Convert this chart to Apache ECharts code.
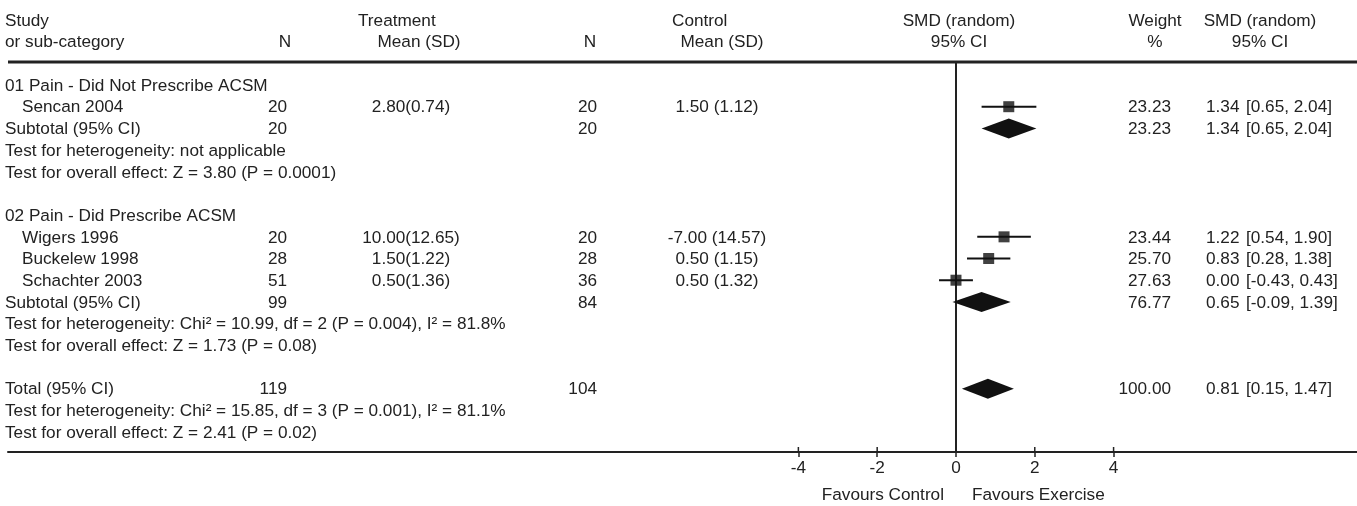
<!DOCTYPE html>
<html><head><meta charset="utf-8">
<script src="https://cdn.jsdelivr.net/npm/echarts@6/dist/echarts.min.js"></script>
<style>html,body{margin:0;padding:0;background:#fff}#c{width:1357px;height:506px}</style>
</head><body><div id="c"></div>
<script>
// ---------------- data ----------------
const groupLabels = ['01 Pain - Did Not Prescribe ACSM', '02 Pain - Did Prescribe ACSM'];
const groupRows = [0, 6];

const studies = ['Sencan 2004', 'Wigers 1996', 'Buckelew 1998', 'Schachter 2003'];
const studyRows = [1, 7, 8, 9];
const treatN = [20, 20, 28, 51];
const treatMeanSD = ['2.80(0.74)', '10.00(12.65)', '1.50(1.22)', '0.50(1.36)'];
const ctrlN = [20, 20, 28, 36];
const ctrlMeanSD = ['1.50 (1.12)', '-7.00 (14.57)', '0.50 (1.15)', '0.50 (1.32)'];
const smd = [1.34, 1.22, 0.83, 0.00];
const ciLower = [0.65, 0.54, 0.28, -0.43];
const ciUpper = [2.04, 1.90, 1.38, 0.43];
const weight = [23.23, 23.44, 25.70, 27.63];

const pooledLabels = ['Subtotal (95% CI)', 'Subtotal (95% CI)', 'Total (95% CI)'];
const pooledRows = [2, 10, 14];
const pooledTreatN = [20, 99, 119];
const pooledCtrlN = [20, 84, 104];
const pooledSmd = [1.34, 0.65, 0.81];
const pooledLower = [0.65, -0.09, 0.15];
const pooledUpper = [2.04, 1.39, 1.47];
const pooledWeight = [23.23, 76.77, 100.00];

const testLines = [
  'Test for heterogeneity: not applicable',
  'Test for overall effect: Z = 3.80 (P = 0.0001)',
  'Test for heterogeneity: Chi² = 10.99, df = 2 (P = 0.004), I² = 81.8%',
  'Test for overall effect: Z = 1.73 (P = 0.08)',
  'Test for heterogeneity: Chi² = 15.85, df = 3 (P = 0.001), I² = 81.1%',
  'Test for overall effect: Z = 2.41 (P = 0.02)'
];
const testRows = [3, 4, 11, 12, 15, 16];

const headerTop = ['Study', 'Treatment', 'Control', 'SMD (random)', 'Weight', 'SMD (random)'];
const headerBottom = ['or sub-category', 'N', 'Mean (SD)', 'N', 'Mean (SD)', '95% CI', '%', '95% CI'];
const headerRows = [-3, -2];

const xTicks = [-4, -2, 0, 2, 4];
const favourLabels = ['Favours Control', 'Favours Exercise'];

// ---------------- layout / style ----------------
const FONT_FAMILY = '"Liberation Sans", Arial, sans-serif';
const FONT = '17.2px ' + FONT_FAMILY;
const INK = '#222';
const MARK = '#111';
const Y_MIN = -1.107, Y_MAX = 16.874;
const COL = { label: 5, indent: 22, treatN: 287, treatMean: 411, ctrlN: 597, ctrlMean: 717,
              weight: 1171, est: 1206, ci: 1246 };

function txt(x, y, text, align) {
  return { type: 'text', x: x, y: y,
    style: { text: String(text), font: FONT, fill: INK, align: align || 'left', verticalAlign: 'middle' } };
}
function rowY(api) { return api.coord([0, api.value(1)])[1]; }
const f2 = v => v.toFixed(2);
const ciTxt = (l, u) => '[' + f2(l) + ', ' + f2(u) + ']';

const chart = echarts.init(document.getElementById('c'));

const option = {
  animation: false,
  backgroundColor: '#fff',
  grid: { left: 8, right: 0, top: 62, bottom: 54, containLabel: false },
  xAxis: {
    type: 'value', min: -24.06, max: 10.178, position: 'bottom',
    axisLine: { onZero: false, lineStyle: { color: INK, width: 2 } },
    axisTick: { customValues: xTicks, length: 5, lineStyle: { color: INK, width: 1.5 } },
    axisLabel: { customValues: xTicks, margin: 8, color: INK, fontSize: 17.2, fontFamily: FONT_FAMILY },
    splitLine: { show: false }
  },
  yAxis: {
    type: 'value', inverse: true, min: Y_MIN, max: Y_MAX,
    axisLine: { show: true, onZero: true, lineStyle: { color: INK, width: 2 } },
    axisTick: { show: false }, axisLabel: { show: false }, splitLine: { show: false }
  },
  graphic: [
    { type: 'line', shape: { x1: 8, y1: 62, x2: 1357, y2: 62 }, style: { stroke: INK, lineWidth: 3 }, z: 100 },
    { type: 'text', x: 944, y: 495, style: { text: favourLabels[0], font: FONT, fill: INK, align: 'right', verticalAlign: 'middle' } },
    { type: 'text', x: 972, y: 495, style: { text: favourLabels[1], font: FONT, fill: INK, align: 'left', verticalAlign: 'middle' } }
  ],
  series: [
    // headers
    {
      type: 'custom', clip: false, silent: true, encode: { x: 0, y: 1 },
      data: headerRows.map(r => [0, r]),
      renderItem: function (params, api) {
        const y = rowY(api);
        if (params.dataIndex === 0) {
          return { type: 'group', children: [
            txt(COL.label, y, headerTop[0]),
            txt(358, y, headerTop[1]),
            txt(672, y, headerTop[2]),
            txt(959, y, headerTop[3], 'center'),
            txt(1155, y, headerTop[4], 'center'),
            txt(1260, y, headerTop[5], 'center')
          ] };
        }
        return { type: 'group', children: [
          txt(COL.label, y, headerBottom[0]),
          txt(285, y, headerBottom[1], 'center'),
          txt(419, y, headerBottom[2], 'center'),
          txt(590, y, headerBottom[3], 'center'),
          txt(722, y, headerBottom[4], 'center'),
          txt(959, y, headerBottom[5], 'center'),
          txt(1155, y, headerBottom[6], 'center'),
          txt(1260, y, headerBottom[7], 'center')
        ] };
      }
    },
    // group labels
    {
      type: 'custom', clip: false, silent: true, encode: { x: 0, y: 1 },
      data: groupRows.map(r => [0, r]),
      renderItem: (params, api) => txt(COL.label, rowY(api), groupLabels[params.dataIndex])
    },
    // test lines
    {
      type: 'custom', clip: false, silent: true, encode: { x: 0, y: 1 },
      data: testRows.map(r => [0, r]),
      renderItem: (params, api) => txt(COL.label, rowY(api), testLines[params.dataIndex])
    },
    // study rows text
    {
      type: 'custom', clip: false, silent: true, encode: { x: 0, y: 1 },
      data: studyRows.map(r => [0, r]),
      renderItem: function (params, api) {
        const i = params.dataIndex, y = rowY(api);
        return { type: 'group', children: [
          txt(COL.indent, y, studies[i]),
          txt(COL.treatN, y, treatN[i], 'right'),
          txt(COL.treatMean, y, treatMeanSD[i], 'center'),
          txt(COL.ctrlN, y, ctrlN[i], 'right'),
          txt(COL.ctrlMean, y, ctrlMeanSD[i], 'center'),
          txt(COL.weight, y, f2(weight[i]), 'right'),
          txt(COL.est, y, f2(smd[i])),
          txt(COL.ci, y, ciTxt(ciLower[i], ciUpper[i]))
        ] };
      }
    },
    // pooled rows text
    {
      type: 'custom', clip: false, silent: true, encode: { x: 0, y: 1 },
      data: pooledRows.map(r => [0, r]),
      renderItem: function (params, api) {
        const i = params.dataIndex, y = rowY(api);
        return { type: 'group', children: [
          txt(COL.label, y, pooledLabels[i]),
          txt(COL.treatN, y, pooledTreatN[i], 'right'),
          txt(COL.ctrlN, y, pooledCtrlN[i], 'right'),
          txt(COL.weight, y, f2(pooledWeight[i]), 'right'),
          txt(COL.est, y, f2(pooledSmd[i])),
          txt(COL.ci, y, ciTxt(pooledLower[i], pooledUpper[i]))
        ] };
      }
    },
    // upper half of axis ticks (so they cross the axis line)
    {
      type: 'custom', clip: false, silent: true, encode: { x: 0, y: 1 },
      data: xTicks.map(v => [v, Y_MAX]),
      renderItem: function (params, api) {
        const p = api.coord([api.value(0), api.value(1)]);
        return { type: 'line', shape: { x1: p[0], y1: p[1] - 5, x2: p[0], y2: p[1] },
                 style: { stroke: INK, lineWidth: 1.5 } };
      }
    },
    // CI whiskers
    {
      type: 'custom', clip: false, silent: true, encode: { x: [0, 1], y: 2 },
      data: studyRows.map((r, i) => [ciLower[i], ciUpper[i], r]),
      renderItem: function (params, api) {
        const p1 = api.coord([api.value(0), api.value(2)]);
        const p2 = api.coord([api.value(1), api.value(2)]);
        return { type: 'line', shape: { x1: p1[0], y1: p1[1] - 1, x2: p2[0], y2: p2[1] - 1 },
                 style: { stroke: MARK, lineWidth: 2 } };
      }
    },
    // study squares
    {
      type: 'scatter', silent: true, symbol: 'rect', symbolSize: 11, symbolOffset: [0, -1], z: 5,
      itemStyle: { color: MARK },
      data: studyRows.map((r, i) => [smd[i], r])
    },
    // pooled diamonds
    {
      type: 'custom', clip: false, silent: true, encode: { x: [0, 1, 2], y: 3 },
      data: pooledRows.map((r, i) => [pooledLower[i], pooledSmd[i], pooledUpper[i], r]),
      renderItem: function (params, api) {
        const r = api.value(3);
        const pl = api.coord([api.value(0), r]);
        const pe = api.coord([api.value(1), r]);
        const pu = api.coord([api.value(2), r]);
        const h = 10, dy = -1;
        return { type: 'polygon',
          shape: { points: [[pl[0], pl[1] + dy], [pe[0], pe[1] - h + dy], [pu[0], pu[1] + dy], [pe[0], pe[1] + h + dy]] },
          style: { fill: MARK } };
      }
    }
  ]
};
chart.setOption(option);
</script>
</body></html>
